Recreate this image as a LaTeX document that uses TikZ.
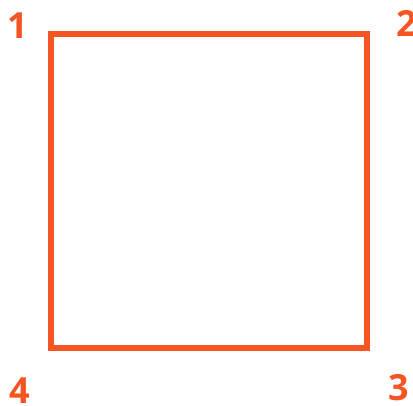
\documentclass[tikz,border=0pt]{standalone}
\usepackage{fontspec}
\setmainfont{Open Sans}
\usetikzlibrary{positioning}
\definecolor{edgeorange}{RGB}{245,85,35}

\begin{document}
\begin{tikzpicture}[
  x=1pt, y=-1pt,
  side/.style={draw=edgeorange, line width=6pt, line join=miter},
  num/.style={text=edgeorange, font=\bfseries\fontsize{36}{36}\selectfont, inner sep=0pt}
]
\useasboundingbox (0,0) rectangle (413,406);

\coordinate (c1) at (51,34);
\coordinate (c2) at (367,34);
\coordinate (c3) at (367,348);
\coordinate (c4) at (51,348);

\draw[side] (c1) -- (c2) -- (c3) -- (c4) -- cycle;

\node[num] (n1) at (18,26) {1};
\node[num] (n2) at (407,23) {2};
\node[num] (n3) at (399,388) {3};
\node[num] (n4) at (20,391) {4};

\end{tikzpicture}
\end{document}
